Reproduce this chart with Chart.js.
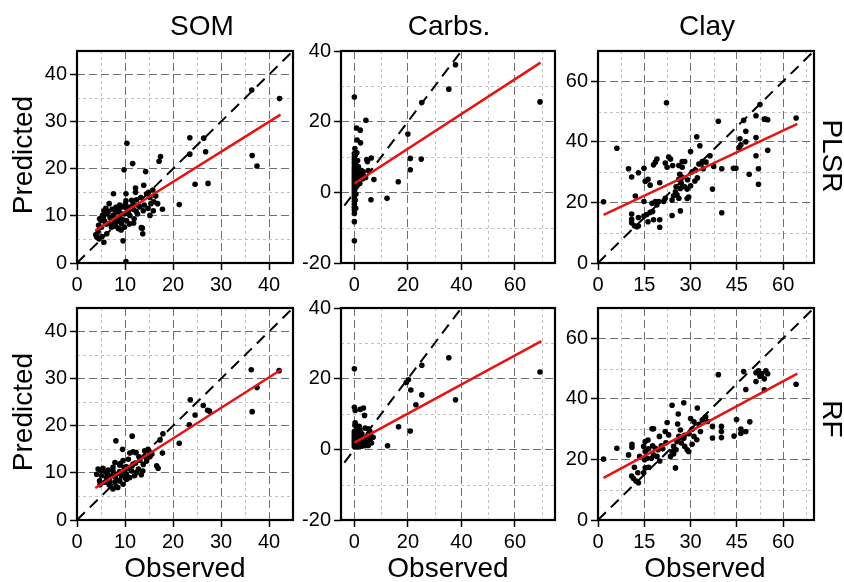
<!DOCTYPE html>
<html>
<head>
<meta charset="utf-8">
<script src="https://cdn.jsdelivr.net/npm/chart.js@4.4.0/dist/chart.umd.min.js"></script>
<style>
  html, body { margin: 0; padding: 0; background: #fff; }
  #wrap { position: relative; width: 844px; height: 582px; overflow: hidden; font-family: "Liberation Sans", Arial, sans-serif; }
  canvas { position: absolute; }
  .lbl { position: absolute; font-size: 28px; line-height: 28px; color: #000; white-space: nowrap; }
</style>
</head>
<body>
<div id="wrap"></div>
<script>
// observed vs predicted, [observed, predicted]
var somPlsr = [[42.2,34.9],[36.4,36.7],[36.5,22.8],[37.5,20.6],[23.5,26.6],[26.4,26.5],[23.5,23.1],[26.8,23.6],[24.6,16.7],[27.3,16.9],[21.3,12.4],[10.4,25.4],[9.8,19.8],[11.6,21.1],[17.4,22.6],[17.1,21.6],[14.3,19.4],[17.8,11.4],[13.9,16.5],[12.2,15.9],[9.6,4.7],[13.6,7.4],[13.7,6.2],[10.2,0.3],
  [7.6,14.7],[10.2,14.7],[12.2,15.0],[14.9,15.0],[14.5,14.7],[13.3,13.9],[12.4,13.4],[15.2,13.9],[16.4,14.2],[16.8,12.6],[15.4,12.6],[14.8,11.6],[13.8,11.1],[12.6,10.4],[11.7,11.4],[11.0,11.9],[10.3,11.6],[9.5,11.9],[8.8,11.6],[8.1,11.8],[7.3,11.4],[6.7,12.6],[6.0,11.6],[5.6,11.1],[5.3,10.1],[4.7,9.4],[6.3,10.4],[7.5,10.1],[8.2,9.4],[8.9,9.7],[9.9,10.4],[11.0,10.1],[11.9,9.4],[10.3,9.0],[9.3,8.3],[8.1,7.8],[7.2,7.6],[6.1,8.3],[8.6,7.3],[9.9,7.6],[13.4,7.5],[4.4,6.6],[3.9,6.0],[4.1,5.5],[4.6,5.1],[5.6,4.4],[5.1,7.6],[11.4,13.3],[10.2,13.2],[8.9,12.3],[13.1,11.9],[15.9,11.1],[15.2,10.1],[12.3,11.0],[8.1,10.8],[6.9,9.6],[7.9,8.7],[10.9,8.3],[10.1,12.5],[11.7,12.5],[5.0,9.0],[5.8,8.8],[7.0,8.2],[8.4,8.9],[9.5,9.2],[10.7,11.0],[12.8,12.2],[14.0,12.3],[16.0,13.0],[6.5,10.9],[9.0,10.6],[5.5,9.7],[4.5,8.0],[15.8,15.5],[11.8,8.5],[9.2,7.0],[6.2,6.2],[5.2,5.6]];
var somRf = [[36.3,31.9],[37.5,28.1],[36.5,23.0],[42.1,31.7],[23.6,25.5],[26.3,24.3],[24.6,22.3],[27.2,23.3],[27.6,23.1],[23.4,20.2],[21.3,16.3],[17.9,18.3],[17.3,17.0],[17.8,14.2],[11.5,17.8],[8.1,16.8],[9.5,15.0],[11.7,14.5],[14.8,15.0],[14.1,14.7],[12.3,14.3],[15.2,13.4],[13.1,12.7],[10.7,12.9],[9.6,12.6],[7.9,12.2],[8.9,11.7],[10.3,11.3],[11.7,11.9],[13.8,11.8],[14.5,12.5],[16.6,11.5],[16.9,11.0],[13.7,10.4],[12.8,10.8],[11.4,10.4],[9.9,10.4],[8.9,10.3],[7.5,10.4],[6.5,10.6],[5.4,11.0],[4.4,10.8],[4.1,9.7],[5.1,9.4],[6.1,9.0],[7.2,9.4],[8.2,9.7],[9.3,9.4],[10.3,9.7],[11.0,9.0],[12.0,9.4],[12.4,10.1],[4.7,8.3],[5.8,8.0],[6.8,8.3],[7.9,8.0],[8.9,8.3],[9.6,7.6],[8.2,7.1],[7.5,6.6],[6.7,7.5],[10.3,8.6],[11.0,14.2],[9.8,11.2],[10.8,10.9],[6.0,10.2],[7.0,7.2],[8.5,6.9],[12.9,13.4],[15.6,14.0],[13.4,9.6],[5.0,10.5],[9.0,12.0],[10.0,9.0],[11.5,11.5],[7.5,11.2],[6.3,9.9],[12.2,12.1],[14.2,13.5],[15.0,14.6],[4.8,7.5],[8.0,9.0]];
var carbsPlsr = [[69.4,25.6],[37.8,36.1],[35.3,29.2],[25.2,25.4],[20.0,16.5],[20.9,9.6],[20.9,6.4],[25.0,9.4],[16.4,3.0],[12.2,-1.7],[6.2,-2.1],[7.3,3.6],[6.3,9.7],[4.6,9.3],[4.3,20.4],[2.2,17.6],[0.8,18.2],[1.0,14.8],[2.3,14.0],[0,27.0],[0,-13.7],[0,-8.3],[0.2,12.4],[4.9,8.7],[5.2,6.2],[2.7,6.2],
  [0,11],[0,10],[0,9.2],[0,8.5],[0,7.8],[0,7],[0,6.4],[0,5.8],[0,5.2],[0,4.6],[0,4],[0,3.4],[0,2.8],[0,2.2],[0,1.6],[0,1],[0,0.4],[0,-0.3],[0,-1],[0,-1.8],[0,-2.6],[0,-3.4],[0,-4.2],[0,-5],[0,-6],
  [0.3,10.5],[0.5,8],[0.6,6],[0.8,4.5],[1.0,3.2],[1.2,5.5],[1.5,7.2],[1.8,4.0],[2.0,2.5],[0.4,1.5],[0.6,-0.5],[0.3,-2.2],[0.5,-4.5],[2.5,5.0],[3.0,3.8],[3.5,4.6],[1.2,9.0],[0.9,11.2],[3.3,5.8],[4.2,4.2]];
var carbsRf = [[69.4,21.9],[35.3,25.9],[37.8,14.0],[25.2,23.8],[19.4,18.9],[20.2,19.7],[21.1,16.8],[25.2,15.4],[23.0,12.6],[20.9,5.2],[16.5,6.4],[12.4,1.0],[0,22.8],[0,11.9],[0.3,11.0],[2.2,11.3],[3.4,11.7],[3.8,9.6],[0.2,6.8],[0.9,6.1],[2.1,5.4],[4.0,6.0],[5.2,5.8],[5.8,5.1],[7.0,3.4],[6.4,1.8],[5.2,1.1],[3.3,1.3],[1.5,1.3],
  [0,5],[0,4.4],[0,3.8],[0,3.2],[0,2.6],[0,2],[0,1.4],[0,0.8],[0.5,4.8],[0.7,3.5],[1.0,2.6],[1.3,4.0],[1.6,3.0],[2.0,2.0],[2.4,3.4],[2.8,4.4],[3.2,2.4],[3.6,3.0],[4.3,2.0],[4.7,3.6],[1.2,0.8],[0.4,1.6],[2.5,0.9],[3.8,1.0],[0.8,5.5],[1.8,6.5],[0.3,7.5],[4.5,1.5],[5.8,2.6],[6.0,3.8]];
var clayPlsr = [[1.8,20.2],[6.1,37.9],[22.2,52.9],[39.0,46.8],[47.2,47.1],[51.2,48.6],[53.9,47.5],[54.4,47.5],[55.0,47.3],[64.2,47.9],[47.9,43.5],[51.2,41.4],[47.9,40.0],[46.3,39.0],[45.7,38.1],[55.0,37.2],[51.2,35.4],[52.0,31.1],[49.0,29.3],[52.0,26.0],[44.7,31.3],[43.9,31.3],[40.1,31.1],[37.1,24.4],[40.1,16.6],[32.0,41.7],[33.0,38.7],[30.0,36.8],[36.3,35.4],[33.8,33.5],[32.7,32.7],[34.1,31.1],[31.6,30.7],[30.5,30.1],[32.2,28.1],[31.4,27.1],[30.0,25.5],[28.9,24.4],[29.4,21.8],[28.9,21.3],[28.1,33.5],[27.3,33.5],[26.2,32.2],[27.3,31.6],[24.2,32.2],[23.5,34.3],[22.9,35.0],[21.8,33.0],[22.4,31.6],[19.1,34.3],[18.6,33.3],[18.0,32.4],[26.5,29.3],[27.3,28.3],[26.2,27.6],[27.0,26.3],[28.1,25.2],[26.7,24.6],[25.3,25.2],[25.1,23.5],[25.6,22.5],[26.2,21.4],[24.0,20.8],[24.5,22.2],[21.8,21.4],[21.3,20.3],[19.7,20.3],[18.6,20.3],[19.1,19.2],[17.5,19.7],[26.7,17.2],[24.0,15.7],[20.0,26.5],[16.2,27.6],[15.3,27.0],[16.9,25.7],[14.9,31.3],[13.1,29.8],[10.9,28.4],[9.9,31.1],[14.9,20.3],[10.9,16.2],[10.9,14.4],[10.9,13.3],[11.8,12.3],[12.6,12.0],[13.1,15.0],[14.9,15.5],[15.8,16.0],[16.9,16.7],[17.7,17.0],[18.0,14.3],[16.2,13.6],[20.0,14.3],[20.0,11.8],[13.1,12.2],[12.1,22.1],[52.5,52.3],[37.5,31.9],[29.0,27.5],[33.5,32.8],[46.0,41.0],[35.0,33.3]];
var clayRf = [[1.8,20.1],[6.1,23.7],[9.9,21.5],[11.0,25.0],[11.0,24.0],[11.8,17.4],[10.9,14.5],[11.5,13.7],[12.3,12.9],[12.9,15.6],[13.1,12.3],[14.8,15.6],[15.3,17.2],[16.4,17.4],[15.1,19.9],[15.9,20.4],[15.3,22.6],[14.8,24.3],[15.3,25.9],[16.2,26.4],[16.4,23.5],[17.7,24.5],[18.6,23.7],[19.5,23.2],[18.0,21.5],[17.3,20.4],[19.1,21.0],[17.5,30.1],[18.0,30.1],[19.9,27.6],[21.8,29.2],[22.4,32.2],[22.9,28.1],[24.0,37.9],[27.8,38.7],[25.8,31.7],[26.7,29.7],[26.2,27.6],[27.8,27.0],[27.0,25.4],[25.6,25.9],[24.5,24.3],[25.3,23.2],[24.0,22.6],[23.5,21.0],[25.1,17.2],[24.5,21.8],[28.1,24.3],[28.9,23.2],[29.4,22.6],[30.0,33.5],[31.1,32.4],[32.2,37.0],[32.7,31.6],[33.8,33.0],[33.2,29.2],[32.0,26.5],[31.1,27.6],[34.9,34.1],[37.1,30.9],[37.1,27.1],[40.0,30.9],[40.0,29.2],[40.0,27.2],[39.0,48.0],[44.1,27.7],[44.9,33.2],[46.3,30.0],[46.3,28.6],[47.9,29.2],[49.2,32.4],[47.2,49.0],[47.9,43.1],[51.2,48.6],[52.0,49.3],[53.1,48.3],[54.4,49.3],[51.2,45.7],[53.9,46.6],[55.0,48.3],[53.9,43.0],[64.2,44.8],[20.5,24.5],[22.0,25.5],[29.5,28.5],[30.5,30.0],[35.5,32.5],[13.5,21.0],[20.0,19.5],[21.0,23.5],[28.0,28.0],[26.0,35.0],[30.5,25.0],[52.5,47.5]];

// fitted regression lines, [start, end]
var somPlsrFit = [[3.8,6.9],[42.4,31.5]];
var somRfFit = [[3.8,6.8],[42.5,31.9]];
var carbsPlsrFit = [[0,2.5],[69.6,36.7]];
var carbsRfFit = [[0,1.9],[69.9,30.6]];
var clayPlsrFit = [[1.8,15.9],[64.6,45.9]];
var clayRfFit = [[1.8,13.9],[64.6,48.3]];

// axis ranges and ticks
var somRange = [0, 45], somTicks = [0, 10, 20, 30, 40], somMinor = [5, 15, 25, 35];
var carbsXRange = [-5, 75], carbsXTicks = [0, 20, 40, 60], carbsXMinor = [10, 30, 50, 70];
var carbsYRange = [-20, 40], carbsYTicks = [-20, 0, 20, 40], carbsYMinor = [-10, 10, 30];
var clayRange = [0, 70], clayXTicks = [0, 15, 30, 45, 60], clayXMinor = [7.5, 22.5, 37.5, 52.5, 67.5];
var clayYTicks = [0, 20, 40, 60], clayYMinor = [10, 30, 50];

var colLeft = [77, 341, 598], colWidth = [216, 214, 216];
var rowTop = [48, 305], plotH = 215;

var panels = [
  {col:0,row:0,pts:somPlsr,fit:somPlsrFit,xr:somRange,yr:somRange,xt:somTicks,yt:somTicks,xm:somMinor,ym:somMinor},
  {col:1,row:0,pts:carbsPlsr,fit:carbsPlsrFit,xr:carbsXRange,yr:carbsYRange,xt:carbsXTicks,yt:carbsYTicks,xm:carbsXMinor,ym:carbsYMinor},
  {col:2,row:0,pts:clayPlsr,fit:clayPlsrFit,xr:clayRange,yr:clayRange,xt:clayXTicks,yt:clayYTicks,xm:clayXMinor,ym:clayYMinor},
  {col:0,row:1,pts:somRf,fit:somRfFit,xr:somRange,yr:somRange,xt:somTicks,yt:somTicks,xm:somMinor,ym:somMinor},
  {col:1,row:1,pts:carbsRf,fit:carbsRfFit,xr:carbsXRange,yr:carbsYRange,xt:carbsXTicks,yt:carbsYTicks,xm:carbsXMinor,ym:carbsYMinor},
  {col:2,row:1,pts:clayRf,fit:clayRfFit,xr:clayRange,yr:clayRange,xt:clayXTicks,yt:clayYTicks,xm:clayXMinor,ym:clayYMinor}
];

var FONT = '"Liberation Sans", Arial, sans-serif';
Chart.defaults.font.family = FONT;

var minorGrid = {
  id: 'minorGrid',
  beforeDraw: function(chart, args, opts) {
    var ctx = chart.ctx, a = chart.chartArea, sx = chart.scales.x, sy = chart.scales.y;
    ctx.save();
    ctx.strokeStyle = '#c2c2c2';
    ctx.lineWidth = 1;
    ctx.setLineDash([3, 3]);
    ctx.beginPath();
    opts.xs.forEach(function(v) {
      var px = Math.round(sx.getPixelForValue(v)) + 0.5;
      ctx.moveTo(px, a.top); ctx.lineTo(px, a.bottom);
    });
    opts.ys.forEach(function(v) {
      var py = Math.round(sy.getPixelForValue(v)) + 0.5;
      ctx.moveTo(a.left, py); ctx.lineTo(a.right, py);
    });
    ctx.stroke();
    ctx.restore();
  }
};

var frame = {
  id: 'frame',
  afterDraw: function(chart) {
    var ctx = chart.ctx, a = chart.chartArea;
    ctx.save();
    ctx.strokeStyle = '#000';
    ctx.lineWidth = 2.2;
    ctx.strokeRect(a.left, a.top, a.right - a.left, a.bottom - a.top);
    ctx.restore();
  }
};

var wrap = document.getElementById('wrap');
var YW = 62, XH = 40, PADT = 12, PADR = 12;

panels.forEach(function(p) {
  var cv = document.createElement('canvas');
  var w = colWidth[p.col] + YW + PADR, h = plotH + PADT + XH;
  cv.width = w; cv.height = h;
  cv.style.left = (colLeft[p.col] - YW) + 'px';
  cv.style.top = (rowTop[p.row] - PADT) + 'px';
  cv.style.width = w + 'px'; cv.style.height = h + 'px';
  wrap.appendChild(cv);

  var lo = Math.min(p.xr[0], p.yr[0]), hi = Math.min(p.xr[1], p.yr[1]);

  function axis(range, ticks, isX) {
    return {
      type: 'linear',
      min: range[0], max: range[1],
      afterBuildTicks: function(s) { s.ticks = ticks.map(function(v) { return {value: v}; }); },
      afterFit: function(s) { if (isX) s.height = XH; else s.width = YW; },
      grid: { color: '#6f6f6f', lineWidth: 1, drawTicks: true, tickLength: 7, tickColor: '#000', tickWidth: 1.5 },
      border: { display: false, dash: [8, 4] },
      ticks: { color: '#000', font: { size: 20, family: FONT }, padding: 3, maxRotation: 0, autoSkip: false }
    };
  }

  new Chart(cv, {
    type: 'scatter',
    data: {
      datasets: [
        { type: 'line', data: p.fit.map(function(d) { return {x: d[0], y: d[1]}; }),
          borderColor: '#e41414', borderWidth: 2.5, pointRadius: 0, fill: false },
        { data: p.pts.map(function(d) { return {x: d[0], y: d[1]}; }),
          backgroundColor: '#000', borderWidth: 0, pointRadius: 2.8 },
        { type: 'line', data: [{x: lo, y: lo}, {x: hi, y: hi}],
          borderColor: '#000', borderWidth: 2, borderDash: [11, 7], pointRadius: 0, fill: false }
      ]
    },
    options: {
      responsive: false,
      animation: false,
      layout: { padding: { top: PADT, right: PADR, left: 0, bottom: 0 } },
      plugins: { legend: { display: false }, tooltip: { enabled: false },
                 minorGrid: { xs: p.xm, ys: p.ym } },
      scales: { x: axis(p.xr, p.xt, true), y: axis(p.yr, p.yt, false) }
    },
    plugins: [minorGrid, frame]
  });
});

function label(text, cx, cy, rot) {
  var d = document.createElement('div');
  d.className = 'lbl';
  d.textContent = text;
  d.style.left = cx + 'px';
  d.style.top = cy + 'px';
  d.style.transform = 'translate(-50%, -50%)' + (rot ? ' rotate(' + rot + 'deg)' : '');
  wrap.appendChild(d);
}

label('SOM', 202, 26);
label('Carbs.', 449, 26);
label('Clay', 707, 26);
label('Predicted', 23, 155, -90);
label('Predicted', 23, 412, -90);
label('PLSR', 832, 156, 90);
label('RF', 832, 419, 90);
label('Observed', 185, 568);
label('Observed', 448, 568);
label('Observed', 705, 568);
</script>
</body>
</html>
